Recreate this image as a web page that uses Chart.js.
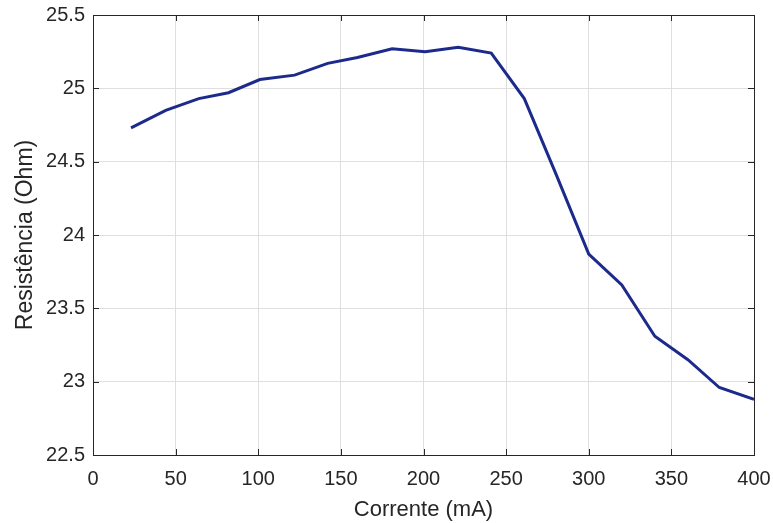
<!DOCTYPE html>
<html>
<head>
<meta charset="utf-8">
<script src="https://cdn.jsdelivr.net/npm/chart.js@4.4.1/dist/chart.umd.min.js"></script>
<style>
  html, body { margin: 0; padding: 0; background: #ffffff; }
  #wrap { width: 773px; height: 523px; }
</style>
</head>
<body>
<div id="wrap"><canvas id="chart"></canvas></div>
<script>
// Data (current in mA, resistance in Ohm)
const currents = [23, 44, 64, 82, 101, 122, 142, 160, 181, 201, 221, 241, 261, 280, 300, 320, 340, 360, 379, 400];
const resistances = [24.73, 24.85, 24.93, 24.97, 25.06, 25.09, 25.17, 25.21, 25.27, 25.25, 25.28, 25.24, 24.93, 24.42, 23.87, 23.66, 23.31, 23.15, 22.96, 22.88];

const xTicks = [0, 50, 100, 150, 200, 250, 300, 350, 400];
const yTicks = [22.5, 23, 23.5, 24, 24.5, 25, 25.5];

const textColor = "#262626";
const gridColor = "#dfdfdf";
const fontFamily = "'Liberation Sans', Arial, sans-serif";

// Draw the MATLAB-style box and inward tick marks around the plot area
const boxPlugin = {
  id: "box",
  afterDatasetsDraw(chart) {
    const { ctx, chartArea, scales } = chart;
    ctx.save();
    ctx.strokeStyle = textColor;
    ctx.lineWidth = 1;
    ctx.strokeRect(chartArea.left + 0.5, chartArea.top + 0.5,
      chartArea.right - chartArea.left, chartArea.bottom - chartArea.top);
    ctx.beginPath();
    xTicks.forEach((v) => {
      const x = Math.round(scales.x.getPixelForValue(v)) + 0.5;
      ctx.moveTo(x, chartArea.bottom); ctx.lineTo(x, chartArea.bottom - 6);
      ctx.moveTo(x, chartArea.top); ctx.lineTo(x, chartArea.top + 6);
    });
    yTicks.forEach((v) => {
      const y = Math.round(scales.y.getPixelForValue(v)) + 0.5;
      ctx.moveTo(chartArea.left, y); ctx.lineTo(chartArea.left + 6, y);
      ctx.moveTo(chartArea.right, y); ctx.lineTo(chartArea.right - 6, y);
    });
    ctx.stroke();
    ctx.restore();
  },
};

new Chart(document.getElementById("chart"), {
  type: "line",
  data: {
    datasets: [{
      data: currents.map((c, i) => ({ x: c, y: resistances[i] })),
      borderColor: "#1c2a8c",
      borderWidth: 3,
      pointRadius: 0,
      tension: 0,
      fill: false,
    }],
  },
  options: {
    responsive: true,
    maintainAspectRatio: false,
    animation: false,
    layout: { padding: { left: 0, right: 19, top: 15, bottom: 0 } },
    plugins: { legend: { display: false }, tooltip: { enabled: false } },
    scales: {
      x: {
        type: "linear",
        min: 0,
        max: 400,
        afterBuildTicks: (s) => { s.ticks = xTicks.map((v) => ({ value: v })); },
        afterFit: (s) => { s.height = 68; s.paddingLeft = 0; s.paddingRight = 0; },
        grid: { color: gridColor, drawTicks: false },
        border: { color: textColor },
        ticks: {
          color: textColor,
          padding: 12,
          maxRotation: 0,
          font: { family: fontFamily, size: 20 },
        },
        title: {
          display: true,
          text: "Corrente (mA)",
          color: textColor,
          padding: { top: 0, bottom: 0 },
          font: { family: fontFamily, size: 22 },
        },
      },
      y: {
        type: "linear",
        min: 22.5,
        max: 25.5,
        afterBuildTicks: (s) => { s.ticks = yTicks.map((v) => ({ value: v })); },
        afterFit: (s) => { s.width = 93; s.paddingTop = 0; s.paddingBottom = 0; },
        grid: { color: gridColor, drawTicks: false },
        border: { color: textColor },
        ticks: {
          color: textColor,
          padding: 8,
          font: { family: fontFamily, size: 20 },
          callback: (v) => String(v),
        },
        title: {
          display: true,
          text: "Resistência (Ohm)",
          color: textColor,
          padding: { top: 12, bottom: 0 },
          font: { family: fontFamily, size: 23 },
        },
      },
    },
  },
  plugins: [boxPlugin],
});
</script>
</body>
</html>
